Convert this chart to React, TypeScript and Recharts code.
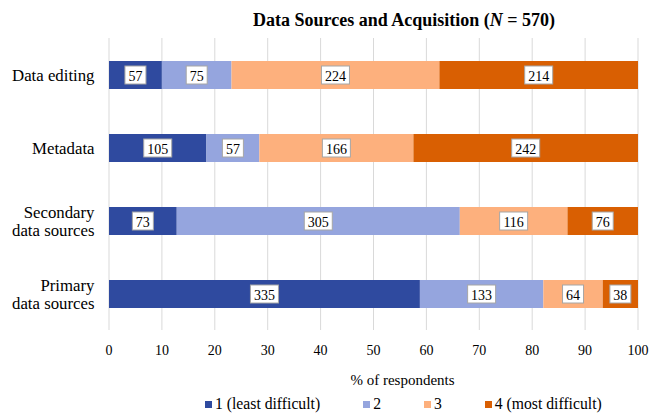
import {
  BarChart,
  Bar,
  XAxis,
  YAxis,
  CartesianGrid,
  Legend,
  LabelList,
} from "recharts";

const categories = [
  "Data editing",
  "Metadata",
  "Secondary data sources",
  "Primary data sources",
];
const leastDifficult = [57, 105, 73, 335];
const level2 = [75, 57, 305, 133];
const level3 = [224, 166, 116, 64];
const mostDifficult = [214, 242, 76, 38];

const seriesNames = ["1 (least difficult)", "2", "3", "4 (most difficult)"];
const seriesKeys = ["s1", "s2", "s3", "s4"];
const colors = ["#2f4a9f", "#95a5de", "#fdb07d", "#d95f02"];
const xTicks = [0, 10, 20, 30, 40, 50, 60, 70, 80, 90, 100];

const data = categories.map((name, i) => ({
  name,
  s1: leastDifficult[i],
  s2: level2[i],
  s3: level3[i],
  s4: mostDifficult[i],
}));

const font = "Liberation Serif, DejaVu Serif, serif";

function CategoryTick(props: any) {
  const { x, y, payload } = props;
  const text: string = payload.value;
  let lines = [text];
  if (text.length > 14) {
    const cut = text.indexOf(" ");
    lines = [text.slice(0, cut), text.slice(cut + 1)];
  }
  const lh = 18;
  const start = y - ((lines.length - 1) * lh) / 2;
  return (
    <text
      x={x}
      y={start}
      textAnchor="end"
      dominantBaseline="central"
      style={{ fontFamily: font }}
      fontSize={16.8}
      fill="#000"
    >
      {lines.map((l, i) => (
        <tspan key={i} x={x} y={start + i * lh}>
          {l}
        </tspan>
      ))}
    </text>
  );
}

function CountLabel(props: any) {
  const { x, y, width, height, value } = props;
  const s = String(value);
  const w = s.length * 7 + 7;
  const h = 18;
  const cx = x + width / 2;
  const cy = y + height / 2;
  return (
    <g>
      <rect
        x={cx - w / 2}
        y={cy - h / 2}
        width={w}
        height={h}
        fill="#fff"
        stroke="#a6a6a6"
        strokeWidth={1}
      />
      <text
        x={cx}
        y={cy + 1}
        textAnchor="middle"
        dominantBaseline="central"
        style={{ fontFamily: font }}
        fontSize={14}
        fill="#000"
      >
        {s}
      </text>
    </g>
  );
}

function LegendContent() {
  return (
    <div style={{ display: "flex", fontFamily: font, fontSize: 15.7, color: "#000" }}>
      {seriesNames.map((n, i) => (
        <div
          key={n}
          style={{ display: "flex", alignItems: "center", marginRight: 43 }}
        >
          <span
            style={{
              width: 7,
              height: 7,
              background: colors[i],
              marginRight: 3,
              display: "inline-block",
            }}
          />
          <span>{n}</span>
        </div>
      ))}
    </div>
  );
}

export default function App() {
  return (
    <div
      style={{
        position: "absolute",
        left: 0,
        top: 0,
        width: 651,
        height: 419,
        background: "#fff",
        fontFamily: font,
      }}
    >
      <div
        style={{
          position: "absolute",
          left: 404,
          top: 9,
          transform: "translateX(-50%)",
          whiteSpace: "nowrap",
          fontFamily: font,
          fontWeight: "bold",
          fontSize: 18,
          lineHeight: "22px",
          color: "#000",
        }}
      >
        Data Sources and Acquisition (<i>N</i> = 570)
      </div>
      <BarChart
        width={651}
        height={419}
        data={data}
        layout="vertical"
        stackOffset="expand"
        barSize={28}
        margin={{ top: 38, right: 13, bottom: 59, left: 0 }}
        style={{ fontFamily: font }}
      >
        <CartesianGrid horizontal={false} stroke="#d9d9d9" />
        <XAxis
          type="number"
          domain={[0, 1]}
          ticks={xTicks.map((t) => t / 100)}
          tickFormatter={(v: number) => String(Math.round(v * 100))}
          axisLine={false}
          tickLine={false}
          tickSize={0}
          tickMargin={15}
          height={30}
          tick={{ fontFamily: font, fontSize: 14, fill: "#000" }}
          label={{
            content: (p: any) => {
              const vb = p.viewBox;
              return (
                <text
                  x={vb.x + vb.width / 2 + 29}
                  y={385}
                  textAnchor="middle"
                  style={{ fontFamily: font }}
                  fontSize={15}
                  fill="#000"
                >
                  % of respondents
                </text>
              );
            },
          }}
        />
        <YAxis
          type="category"
          dataKey="name"
          width={109}
          axisLine={false}
          tickLine={false}
          tickSize={0}
          tickMargin={14.5}
          tick={<CategoryTick />}
        />
        <Legend
          layout="horizontal"
          verticalAlign="middle"
          align="center"
          content={<LegendContent />}
          wrapperStyle={{ left: 205, top: 395, width: 440 }}
        />
        {seriesKeys.map((k, i) => (
          <Bar
            key={k}
            dataKey={k}
            name={seriesNames[i]}
            stackId="a"
            fill={colors[i]}
            isAnimationActive={false}
          >
            <LabelList dataKey={k} content={<CountLabel />} />
          </Bar>
        ))}
      </BarChart>
    </div>
  );
}
